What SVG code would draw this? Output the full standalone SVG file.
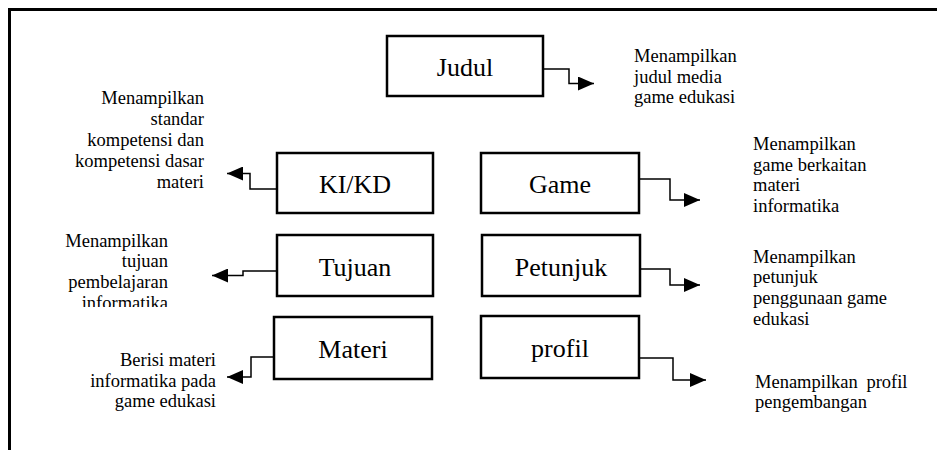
<svg xmlns="http://www.w3.org/2000/svg" width="937" height="450" viewBox="0 0 937 450">
<style>
.box{fill:#fff;stroke:#000;stroke-width:2.5}
.lbl{font-family:"Liberation Serif","Times New Roman",serif;font-size:26px;text-anchor:middle;fill:#000}
.desc{font-family:"Liberation Serif","Times New Roman",serif;font-size:18.5px;fill:#000}
.end{text-anchor:end}
.con{fill:none;stroke:#000;stroke-width:1.5}
</style>
<defs>
<marker id="arr" markerUnits="userSpaceOnUse" markerWidth="16" markerHeight="14" refX="16" refY="7" orient="auto">
<path d="M0,0 L16,7 L0,14 z" fill="#000"/>
</marker>
<clipPath id="clipTuj"><rect x="0" y="0" width="937" height="307"/></clipPath>
</defs>
<path d="M9.5,450 V9.5 H937" fill="none" stroke="#000" stroke-width="3"/>
<g id="connectors">
<path class="con" d="M543,69 H569 V83.5 H594" marker-end="url(#arr)"/>
<path class="con" d="M277,189 H250 V173.5 H227" marker-end="url(#arr)"/>
<path class="con" d="M277,271 H243 V275.5 H212" marker-end="url(#arr)"/>
<path class="con" d="M274,357 H251 V377 H227" marker-end="url(#arr)"/>
<path class="con" d="M639,179 H670 V200 H700" marker-end="url(#arr)"/>
<path class="con" d="M640,269 H670 V285 H700" marker-end="url(#arr)"/>
<path class="con" d="M639,358 H673 V380 H706" marker-end="url(#arr)"/>
</g>
<g id="judul">
<rect class="box" x="387" y="36" width="156" height="60"/>
<text class="lbl" x="465" y="76">Judul</text>
<text class="desc" x="634" y="62">Menampilkan</text>
<text class="desc" x="634" y="83">judul media</text>
<text class="desc" x="634" y="103">game edukasi</text>
</g>
<g id="kikd">
<rect class="box" x="277" y="153" width="156" height="60"/>
<text class="lbl" x="355" y="193">KI/KD</text>
<text class="desc end" x="204" y="104">Menampilkan</text>
<text class="desc end" x="204" y="125">standar</text>
<text class="desc end" x="204" y="146">kompetensi dan</text>
<text class="desc end" x="204" y="167">kompetensi dasar</text>
<text class="desc end" x="204" y="188">materi</text>
</g>
<g id="tujuan">
<rect class="box" x="277" y="235" width="156" height="61"/>
<text class="lbl" x="355" y="276">Tujuan</text>
<g clip-path="url(#clipTuj)">
<text class="desc end" x="168" y="247">Menampilkan</text>
<text class="desc end" x="168" y="267">tujuan</text>
<text class="desc end" x="168" y="288">pembelajaran</text>
<text class="desc end" x="168" y="309">informatika</text>
</g>
</g>
<g id="materi">
<rect class="box" x="274" y="317" width="158" height="62"/>
<text class="lbl" x="353" y="358">Materi</text>
<text class="desc end" x="216" y="366">Berisi materi</text>
<text class="desc end" x="216" y="387">informatika pada</text>
<text class="desc end" x="216" y="407">game edukasi</text>
</g>
<g id="game">
<rect class="box" x="481" y="153" width="158" height="60"/>
<text class="lbl" x="560" y="193">Game</text>
<text class="desc" x="753" y="150">Menampilkan</text>
<text class="desc" x="753" y="171">game berkaitan</text>
<text class="desc" x="753" y="191">materi</text>
<text class="desc" x="753" y="212">informatika</text>
</g>
<g id="petunjuk">
<rect class="box" x="482" y="235" width="158" height="61"/>
<text class="lbl" x="561" y="276">Petunjuk</text>
<text class="desc" x="753" y="263">Menampilkan</text>
<text class="desc" x="753" y="283">petunjuk</text>
<text class="desc" x="753" y="304">penggunaan game</text>
<text class="desc" x="753" y="325">edukasi</text>
</g>
<g id="profil">
<rect class="box" x="481" y="316" width="158" height="62"/>
<text class="lbl" x="560" y="357">profil</text>
<text class="desc" x="755" y="388" word-spacing="4">Menampilkan profil</text>
<text class="desc" x="755" y="408">pengembangan</text>
</g>
</svg>
